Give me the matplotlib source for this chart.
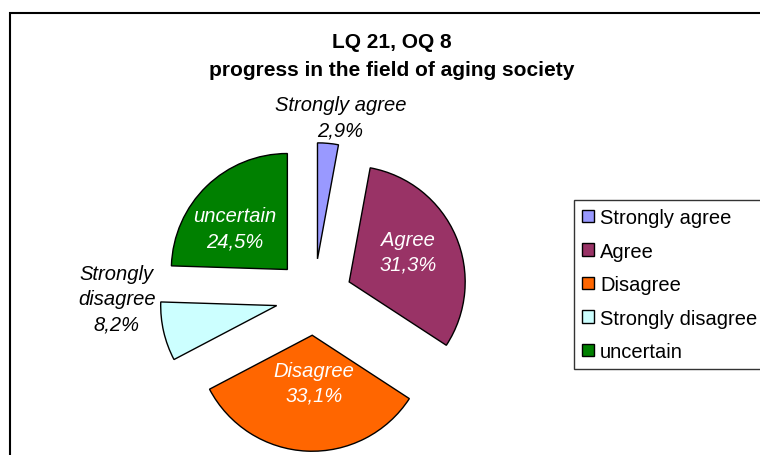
#!/usr/bin/env python3
# -*- coding: utf-8 -*-
"""
Exploded pie: LQ 21, OQ 8 - progress in the field of aging society
"""

import numpy as np
import matplotlib as mpl
import matplotlib.pyplot as plt
from matplotlib.patches import Rectangle, Patch

# Data
categories = ["Strongly agree", "Agree", "Disagree", "Strongly disagree",
              "uncertain"]
shares = [2.9, 31.3, 33.1, 8.2, 24.5]            # percent
pct_text = ["2,9%", "31,3%", "33,1%", "8,2%", "24,5%"]
slice_text = ["Strongly agree", "Agree", "Disagree", "Strongly\ndisagree",
              "uncertain"]

# Colors (Excel default palette)
cm = ["#9999FF", "#993366", "#FF6600", "#CCFFFF", "#008000"]
txt_col = ["black", "white", "white", "black", "white"]

# Label placement relative to each slice apex: (distance in radii, angle
# offset from the slice mid-angle in degrees)
lab_pos = [(1.24, -4.0), (0.57, 4.0), (0.41, 5.0), (1.38, -15.5),
           (0.58, 7.8)]

mpl.rcParams['font.family'] = ['Liberation Sans', 'DejaVu Sans']

W, H = 760, 456
fig = plt.figure(figsize=(W / 100, H / 100), dpi=100)
ax = fig.add_axes([0, 0, 1, 1])

# Pie centre (pixels from top-left) and radius in pixels
cx, cy, R = 314, 298, 116

wedges, _ = ax.pie(shares, colors=cm, startangle=90, counterclock=False,
                   explode=[0.33] * len(shares), radius=1.0,
                   wedgeprops=dict(edgecolor="black", linewidth=1.0))

ax.set_aspect('auto')
ax.set_xlim(-cx / R, (W - cx) / R)
ax.set_ylim(-(H - cy) / R, cy / R)
ax.axis('off')

# Slice labels
for w, lab, pct, col, (dist, dang) in zip(wedges, slice_text, pct_text,
                                          txt_col, lab_pos):
    mid = 0.5 * (w.theta1 + w.theta2) + dang
    x0, y0 = w.center
    x = x0 + dist * np.cos(np.deg2rad(mid))
    y = y0 + dist * np.sin(np.deg2rad(mid))
    ax.text(x, y, "%s\n%s" % (lab, pct), color=col, fontsize=14.5,
            style='italic', ha='center', va='center', linespacing=1.42)

# Title
fig.text(392 / W, 1 - 43 / H, "LQ 21, OQ 8", fontsize=15, weight='bold',
         ha='center', va='center')
fig.text(392 / W, 1 - 70 / H, "progress in the field of aging society",
         fontsize=15, weight='bold', ha='center', va='center')

# Legend
handles = [Patch(facecolor=c, edgecolor="black", linewidth=1.0) for c in cm]
leg = fig.legend(handles, categories, loc='upper left',
                 bbox_to_anchor=(574 / W, 1 - 201 / H), fontsize=14.5,
                 frameon=True, fancybox=False, borderaxespad=0,
                 handlelength=0.6, handleheight=0.6, handletextpad=0.3,
                 labelspacing=0.72, borderpad=0.4)
leg.get_frame().set_edgecolor("black")
leg.get_frame().set_linewidth(1.0)

# Chart-area frame (runs off the right and bottom of the picture)
fig.patches.append(Rectangle((10 / W, -0.1), 1.0, 1 - 14 / H + 0.1,
                             transform=fig.transFigure, fill=False,
                             edgecolor="black", linewidth=1.5))

plt.savefig("out.png", dpi=100)
